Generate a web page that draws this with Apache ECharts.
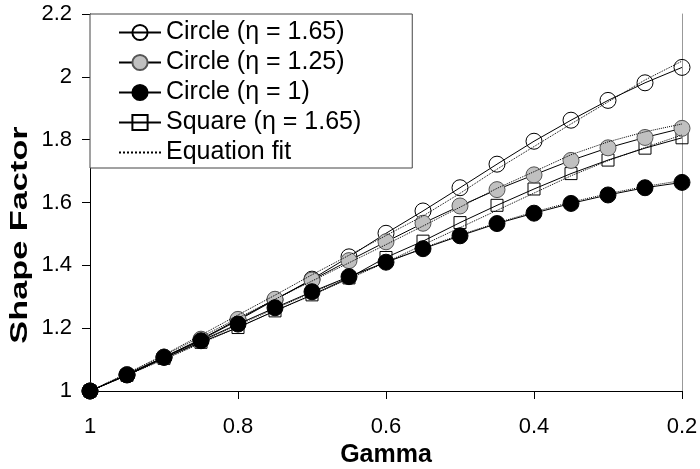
<!DOCTYPE html>
<html>
<head>
<meta charset="utf-8">
<script src="https://cdn.jsdelivr.net/npm/echarts@6/dist/echarts.min.js"></script>
<style>
  html, body { margin: 0; padding: 0; background: #fff; }
  #chart { width: 700px; height: 469px; }
</style>
</head>
<body>
<div id="chart"></div>
<script>
// gamma values (x axis, reversed)
const gamma = [1, 0.95, 0.9, 0.85, 0.8, 0.75, 0.7, 0.65, 0.6, 0.55, 0.5, 0.45, 0.4, 0.35, 0.3, 0.25, 0.2];

// measured shape factors
const circle165 = [1, 1.052, 1.108, 1.163, 1.225, 1.29, 1.356, 1.427, 1.502, 1.573, 1.647, 1.722, 1.795, 1.862, 1.925, 1.981, 2.03];
const circle125 = [1, 1.052, 1.108, 1.165, 1.228, 1.292, 1.353, 1.415, 1.475, 1.534, 1.589, 1.641, 1.688, 1.734, 1.774, 1.807, 1.836];
const circle1 = [1, 1.051, 1.107, 1.16, 1.213, 1.265, 1.316, 1.364, 1.41, 1.453, 1.494, 1.533, 1.566, 1.597, 1.624, 1.647, 1.664];
const square165 = [1, 1.05, 1.104, 1.155, 1.202, 1.255, 1.306, 1.36, 1.425, 1.477, 1.536, 1.591, 1.643, 1.692, 1.735, 1.773, 1.806];

// equation fits (dotted)
const fit165 = [1, 1.056, 1.115, 1.178, 1.242, 1.305, 1.37, 1.432, 1.495, 1.557, 1.629, 1.706, 1.778, 1.85, 1.92, 1.99, 2.05];
const fit125 = [1, 1.055, 1.113, 1.172, 1.232, 1.292, 1.35, 1.408, 1.466, 1.525, 1.585, 1.645, 1.698, 1.752, 1.793, 1.825, 1.85];
const fit1 = [1, 1.05, 1.104, 1.157, 1.21, 1.262, 1.313, 1.362, 1.41, 1.455, 1.497, 1.535, 1.57, 1.601, 1.628, 1.651, 1.67];
const fitSquare = [1, 1.05, 1.1, 1.152, 1.203, 1.255, 1.305, 1.357, 1.41, 1.465, 1.52, 1.575, 1.63, 1.685, 1.733, 1.775, 1.815];

const legendNames = ['Circle (\u03b7 = 1.65)', 'Circle (\u03b7 = 1.25)', 'Circle (\u03b7 = 1)', 'Square (\u03b7 = 1.65)', 'Equation fit'];

const pairs = arr => gamma.map((g, i) => [g, arr[i]]);
const font = '"Liberation Sans", Arial, sans-serif';

const chart = echarts.init(document.getElementById('chart'));

const dataSeries = (name, data, symbol, size, fill, border, z) => ({
  name: name,
  type: 'line',
  data: pairs(data),
  symbol: symbol,
  symbolSize: size,
  z: z,
  lineStyle: { color: '#000', width: 1 },
  itemStyle: { color: fill, borderColor: border, borderWidth: 1 },
  emphasis: { disabled: true },
  animation: false
});

const fitSeries = data => ({
  name: 'Equation fit',
  type: 'line',
  data: pairs(data),
  symbol: 'none',
  z: 10,
  lineStyle: { color: '#000', width: 1, type: 'dotted' },
  // only used by the legend icon, keep it invisible
  itemStyle: { color: 'rgba(0,0,0,0)', borderWidth: 0 },
  emphasis: { disabled: true },
  animation: false
});

chart.setOption({
  backgroundColor: '#fff',
  textStyle: { fontFamily: font },
  grid: { left: 90, right: 18, top: 14, bottom: 78, outerBoundsMode: 'none' },
  legend: {
    data: legendNames,
    orient: 'vertical',
    left: 90,
    top: 14,
    padding: [6, 51, 3, 28],
    itemWidth: 42,
    itemHeight: 19,
    itemGap: 5,
    backgroundColor: '#fff',
    borderColor: '#444',
    borderWidth: 1,
    textStyle: { fontSize: 25, color: '#000', fontFamily: font },
    inactiveColor: '#ccc'
  },
  graphic: [{
    type: 'text',
    x: 20,
    y: 235,
    rotation: Math.PI / 2,
    scaleX: 1.43,
    style: {
      text: 'Shape Factor',
      font: 'bold 24px "Liberation Sans", Arial, sans-serif',
      fill: '#000',
      align: 'center',
      verticalAlign: 'middle'
    }
  }],
  xAxis: {
    type: 'value',
    inverse: true,
    min: 0.2,
    max: 1,
    interval: 0.2,
    name: 'Gamma',
    nameLocation: 'middle',
    nameGap: 51,
    nameTextStyle: { fontSize: 25, fontWeight: 'bold', color: '#000', fontFamily: font },
    axisLine: { lineStyle: { color: '#000', width: 1 } },
    axisTick: { show: true, inside: false, length: 8, lineStyle: { color: '#000' } },
    axisLabel: { fontSize: 22, color: '#000', margin: 25, fontFamily: font, formatter: v => String(+v.toFixed(1)) },
    splitLine: { show: false }
  },
  yAxis: [{
    type: 'value',
    min: 1,
    max: 2.2,
    interval: 0.2,
    axisLine: { show: true, lineStyle: { color: '#000', width: 1 } },
    axisTick: { show: true, length: 8, lineStyle: { color: '#000' } },
    axisLabel: { fontSize: 22, color: '#000', margin: 18, fontFamily: font, formatter: v => String(+v.toFixed(1)) },
    splitLine: { show: false }
  }, {
    // right-hand frame line
    type: 'value',
    position: 'right',
    min: 1,
    max: 2.2,
    interval: 0.2,
    axisLine: { show: true, lineStyle: { color: '#999', width: 1 } },
    axisTick: { show: false },
    axisLabel: { show: false },
    splitLine: { show: false }
  }],
  series: [
    dataSeries(legendNames[0], circle165, 'circle', 16, 'rgba(255,255,255,0)', '#000', 2),
    dataSeries(legendNames[1], circle125, 'circle', 16, '#c0c0c0', '#555', 4),
    dataSeries(legendNames[2], circle1, 'circle', 16, '#000', '#000', 5),
    dataSeries(legendNames[3], square165, 'rect', 12, 'rgba(255,255,255,0)', '#000', 3),
    fitSeries(fit165),
    fitSeries(fit125),
    fitSeries(fit1),
    fitSeries(fitSquare)
  ]
});
</script>
</body>
</html>
